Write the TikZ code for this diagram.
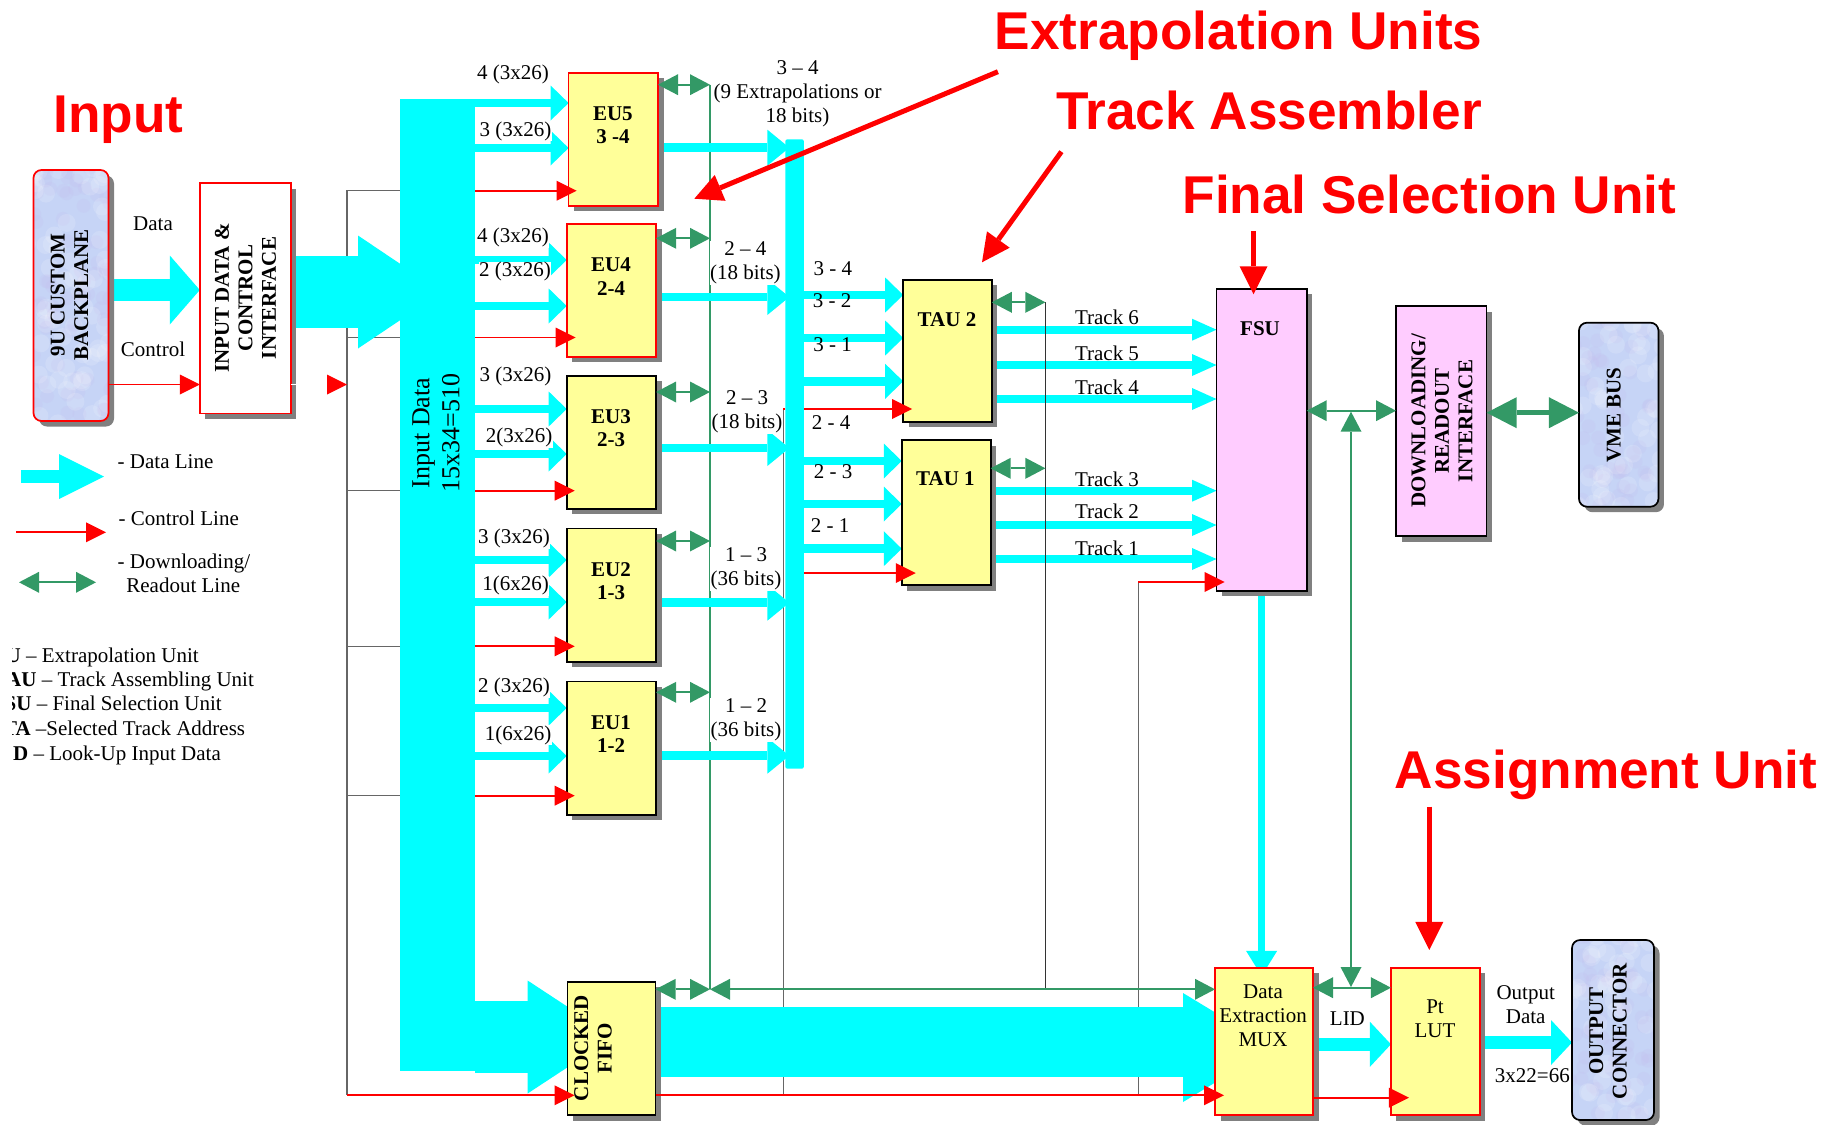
\documentclass[tikz,border=0pt]{standalone}
\usepackage{fontspec}
\setmainfont{Liberation Serif}
\newfontfamily\calloutfont{Liberation Sans}
\usepackage{xcolor}
\usetikzlibrary{
    positioning,
    arrows.meta,
    calc,
    backgrounds,
    shadows,
}
\definecolor{datacyan}{RGB}{0,255,255}
\definecolor{dlgreen}{RGB}{51,153,102}
\definecolor{unityellow}{RGB}{255,255,153}
\definecolor{unitpink}{RGB}{255,204,255}
\definecolor{shadowgray}{RGB}{128,128,128}
\definecolor{texblue}{RGB}{198,212,246}
\definecolor{texlilac}{RGB}{196,180,236}
\tikzset{
    % Block styles
    unit/.style={rectangle, draw=#1, line width=1.7pt, inner sep=0pt, outer sep=0pt,
                 drop shadow={shadow xshift=5.5pt, shadow yshift=-5.5pt, fill=shadowgray, opacity=1}},
    eu unit/.style={unit=#1, fill=unityellow, minimum width=89.4pt, minimum height=133.3pt},
    pink unit/.style={unit=black, fill=unitpink},
    conn unit/.style={unit=#1, fill=texblue, rounded corners=8pt,
                      path picture={
                          \foreach \i in {1,...,70}{
                              \fill[white, opacity=.14] ($(path picture bounding box.center)+(rand*45pt,rand*130pt)$) circle[radius=9pt];
                              \fill[texlilac, opacity=.13] ($(path picture bounding box.center)+(rand*45pt,rand*130pt)$) circle[radius=7pt];
                          }}},
    % Arrow styles
    cyan arrow/.style n args={3}{-{Triangle[length=#2, width=#3, line width=0pt]}, line width=#1, draw=datacyan},
    dataline/.style={cyan arrow={8.5pt}{18pt}{35pt}},
    collectline/.style={cyan arrow={8.5pt}{22pt}{36pt}},
    trackline/.style={cyan arrow={8pt}{24.5pt}{22pt}},
    fatline/.style={cyan arrow={13pt}{21pt}{45pt}},
    ctrlline/.style={-{Triangle[length=20pt, width=20pt, line width=0pt]}, line width=1.8pt, red},
    dlline/.style={{Triangle[length=20pt, width=21pt, line width=0pt]}-{Triangle[length=20pt, width=21pt, line width=0pt]},
                   line width=1.8pt, draw=dlgreen},
    callout/.style={-{Triangle[length=28pt, width=28pt, line width=0pt]}, line width=5pt, red},
    busline/.style={line width=1.1pt, black!60},
    % Text styles
    txt/.style={font=\fontsize{21}{24}\selectfont, align=center, inner sep=0.5pt},
    wtxt/.style={txt, fill=white},
    btxt/.style={txt, font=\fontsize{21}{23.5}\selectfont\bfseries},
    vtxt/.style={btxt, rotate=90},
    bigred/.style={font=\fontsize{53.2}{60}\selectfont\calloutfont\bfseries, text=red, anchor=base, inner sep=0pt},
}
\pgfmathsetseed{17}

\begin{document}
\begin{tikzpicture}[x=1pt, y=-1pt]
    \useasboundingbox (0,0) rectangle (1841,1124);

    % Left side
    \node[conn unit=red, minimum width=75pt, minimum height=251pt] (backplane) at (71,295.5) {};
    \node[vtxt] (backplanetext) at (69.5,295) {9U CUSTOM\\BACKPLANE};
    \node[unit=red, fill=white, minimum width=91pt, minimum height=230.6pt] (iface) at (245.3,298.3) {};
    \node[vtxt] (ifacetext) at (245.6,298) {INPUT DATA \&\\CONTROL\\INTERFACE};
    \node[txt] (datatext) at (153,224) {Data};
    \node[txt] (controltext) at (153,349) {Control};

    % Input bus
    \node[rectangle, fill=datacyan, minimum width=75pt, minimum height=972pt, inner sep=0pt, outer sep=0pt] (inbar) at (437.5,585) {};
    \node[txt, font=\fontsize{26}{30}\selectfont, rotate=90] (inbartext) at (436,433) {Input Data\\15x34=510};

    % Extrapolation units
    \node[eu unit=red] (eu5) at (613.3,139.3) {};
    \node[eu unit=red] (eu4) at (611.4,290.3) {};
    \node[eu unit=black] (eu3) at (611.4,442.3) {};
    \node[eu unit=black] (eu2) at (611.4,595) {};
    \node[eu unit=black] (eu1) at (611.4,748) {};
    \node[eu unit=black, minimum width=88pt] (fifo) at (611.6,1048.6) {};
    \node[btxt] (eu5text) at (612.9,125.4) {EU5\\3 -4};
    \node[btxt] (eu4text) at (611,276.5) {EU4\\2-4};
    \node[btxt] (eu3text) at (611,428) {EU3\\2-3};
    \node[btxt] (eu2text) at (611,581) {EU2\\1-3};
    \node[btxt] (eu1text) at (611,734) {EU1\\1-2};
    \node[vtxt] (fifotext) at (593,1048) {CLOCKED\\FIFO};

    % Track collector and TAUs
    \node[rectangle, fill=datacyan, rounded corners=2pt, minimum width=18.5pt, minimum height=629.4pt, inner sep=0pt, outer sep=0pt] (collector) at (794.6,454) {};
    \node[eu unit=black, minimum width=88.6pt, minimum height=141.7pt] (tau2) at (947.5,350.8) {};
    \node[eu unit=black, minimum width=88.9pt, minimum height=145pt] (tau1) at (946.2,512.5) {};
    \node[btxt] (tau2text) at (947,319.3) {TAU 2};
    \node[btxt] (tau1text) at (945.4,478.7) {TAU 1};

    % Right side
    \node[pink unit, minimum width=90.2pt, minimum height=301.7pt] (fsu) at (1261.6,439.8) {};
    \node[btxt] (fsutext) at (1260,328.3) {FSU};
    \node[pink unit, minimum width=90.6pt, minimum height=230pt] (dlif) at (1441.3,421.3) {};
    \node[vtxt] (dliftext) at (1442,421) {DOWNLOADING/\\READOUT\\INTERFACE};
    \node[conn unit=black, minimum width=79.5pt, minimum height=184pt] (vme) at (1618.7,414.7) {};
    \node[vtxt] (vmetext) at (1613.8,415) {VME BUS};
    \node[eu unit=red, minimum width=98pt, minimum height=147.3pt] (mux) at (1264,1041.6) {};
    \node[txt] (muxtext) at (1263,1016) {Data\\Extraction\\MUX};
    \node[eu unit=red, minimum width=88.7pt, minimum height=147.3pt] (ptlut) at (1435.3,1041.6) {};
    \node[txt] (ptluttext) at (1435,1019) {Pt\\LUT};
    \node[conn unit=black, minimum width=82pt, minimum height=180pt] (outconn) at (1613,1030) {};
    \node[vtxt] (outconntext) at (1608,1031) {OUTPUT\\CONNECTOR};

    % Free ends of the buses
    \coordinate (ctrlbus) at (347,190.7);
    \coordinate (dlbus) at (710,84.7);
    \coordinate (eubus) at (783.2,409);
    \coordinate (tauclk) at (1045.4,302.3);
    \coordinate (fsuclk) at (1138.4,582);

    \begin{pgfonlayer}{background}
        % Control bus
        \draw[busline] (inbar.west |- ctrlbus) -- (ctrlbus) -- (ctrlbus |- 0,1095.3);
        \draw[busline] (ctrlbus |- 0,337.5) -- (inbar.west |- 0,337.5);
        \draw[busline] (ctrlbus |- 0,490.7) -- (inbar.west |- 0,490.7);
        \draw[busline] (ctrlbus |- 0,646.3) -- (inbar.west |- 0,646.3);
        \draw[busline] (ctrlbus |- 0,795.7) -- (inbar.west |- 0,795.7);
        \draw[busline] (eubus) -- (eubus |- 0,1095.3);
        \draw[busline] (fsuclk) -- (fsuclk |- 0,1095.3);
        \draw[line width=1.7pt, draw=dlgreen] (dlbus) -- (dlbus |- 0,989.3);

        % Data in
        \draw[cyan arrow={22pt}{30pt}{69pt}] (backplane.east |- 0,290) -- (iface.west |- 0,290);
        \draw[cyan arrow={72pt}{84pt}{113pt}] (iface.east |- 0,292) -- ([xshift=42pt]inbar.west |- 0,292);
        \draw[cyan arrow={72pt}{86pt}{113pt}] (inbar.east |- 0,1037) -- ([xshift=46pt]fifo.west |- 0,1037);

        % Bus to EUs
        \draw[dataline] (inbar.east |- 0,103) -- (eu5.west |- 0,103);
        \draw[dataline] (inbar.east |- 0,148) -- (eu5.west |- 0,148);
        \draw[dataline] (inbar.east |- 0,260) -- (eu4.west |- 0,260);
        \draw[dataline] (inbar.east |- 0,306) -- (eu4.west |- 0,306);
        \draw[dataline] (inbar.east |- 0,409) -- (eu3.west |- 0,409);
        \draw[dataline] (inbar.east |- 0,454) -- (eu3.west |- 0,454);
        \draw[dataline] (inbar.east |- 0,560) -- (eu2.west |- 0,560);
        \draw[dataline] (inbar.east |- 0,602) -- (eu2.west |- 0,602);
        \draw[dataline] (inbar.east |- 0,708) -- (eu1.west |- 0,708);
        \draw[dataline] (inbar.east |- 0,756) -- (eu1.west |- 0,756);

        % EUs to collector
        \draw[collectline] (eu5.east |- 0,147.7) -- ([xshift=4pt]collector.west |- 0,147.7);
        \draw[collectline] (eu4.east |- 0,297) -- ([xshift=4pt]collector.west |- 0,297);
        \draw[collectline] (eu3.east |- 0,448) -- ([xshift=4pt]collector.west |- 0,448);
        \draw[collectline] (eu2.east |- 0,602.7) -- ([xshift=4pt]collector.west |- 0,602.7);
        \draw[collectline] (eu1.east |- 0,755.7) -- ([xshift=4pt]collector.west |- 0,755.7);

        % Collector to TAUs
        \draw[dataline] (collector.east |- 0,295) -- (tau2.west |- 0,295);
        \draw[dataline] (collector.east |- 0,338) -- (tau2.west |- 0,338);
        \draw[dataline] (collector.east |- 0,381.3) -- (tau2.west |- 0,381.3);
        \draw[dataline] (collector.east |- 0,461) -- (tau1.west |- 0,461);
        \draw[dataline] (collector.east |- 0,504) -- (tau1.west |- 0,504);
        \draw[dataline] (collector.east |- 0,548.7) -- (tau1.west |- 0,548.7);

        % Tracks
        \draw[trackline] (tau2.east |- 0,329.7) -- (fsu.west |- 0,329.7);
        \draw[trackline] (tau2.east |- 0,365) -- (fsu.west |- 0,365);
        \draw[trackline] (tau2.east |- 0,399) -- (fsu.west |- 0,399);
        \draw[trackline] (tau1.east |- 0,490.7) -- (fsu.west |- 0,490.7);
        \draw[trackline] (tau1.east |- 0,525) -- (fsu.west |- 0,525);
        \draw[trackline] (tau1.east |- 0,559) -- (fsu.west |- 0,559);
        \draw[line width=1pt, black!80] (tauclk) -- (tauclk |- 0,989.3);

        % Lower path
        \draw[line width=70pt, datacyan] (fifo.east |- 0,1042) -- ([xshift=-30pt]mux.west |- 0,1042);
        \draw[cyan arrow={58pt}{90pt}{109pt}] ([xshift=-33pt]mux.west |- 0,1047.5) -- ([xshift=58pt]mux.west |- 0,1047.5);
        \draw[cyan arrow={7pt}{25pt}{31pt}] (fsu.south) -- ([yshift=-8pt]mux.north -| fsu.south);
        \draw[fatline] (mux.east |- 0,1044.3) -- (ptlut.west |- 0,1044.3);
        \draw[fatline] (ptlut.east |- 0,1042.5) -- (outconn.west |- 0,1042.5);
    \end{pgfonlayer}

    % Control lines
    \draw[ctrlline] (backplane.east |- 0,384.5) -- (iface.west |- 0,384.5);
    \draw[ctrlline, draw=white, -{Triangle[length=20pt, width=20pt, line width=0pt, color=red]}] (iface.east |- 0,384.5) -- (ctrlbus |- 0,384.5);
    \draw[ctrlline] (inbar.east |- 0,190.7) -- ([xshift=8pt]eu5.west |- 0,190.7);
    \draw[ctrlline] (inbar.east |- 0,337.5) -- ([xshift=9pt]eu4.west |- 0,337.5);
    \draw[ctrlline] (inbar.east |- 0,490.7) -- ([xshift=8pt]eu3.west |- 0,490.7);
    \draw[ctrlline] (inbar.east |- 0,646.3) -- ([xshift=8pt]eu2.west |- 0,646.3);
    \draw[ctrlline] (inbar.east |- 0,795.7) -- ([xshift=8pt]eu1.west |- 0,795.7);
    \draw[ctrlline] (ctrlbus |- 0,1095.3) -- ([xshift=7pt]fifo.west |- 0,1095.3);
    \draw[ctrlline] (fifo.east |- 0,1095.3) -- ([xshift=9pt]mux.west |- 0,1095.3);
    \draw[ctrlline] (mux.east |- 0,1097.7) -- ([xshift=18pt]ptlut.west |- 0,1097.7);
    \draw[ctrlline] (collector.east |- eubus) -- ([xshift=9pt]tau2.west |- eubus);
    \draw[ctrlline] (collector.east |- 0,573) -- ([xshift=14pt]tau1.west |- 0,573);
    \draw[line width=1.8pt, red] (eubus) -- (collector.west |- eubus);
    \draw[ctrlline] (fsuclk) -- ([xshift=8pt]fsu.west |- fsuclk);

    % Downloading / readout lines
    \draw[dlline] (eu5.east |- dlbus) -- (dlbus);
    \draw[dlline] (eu4.east |- 0,238.3) -- (dlbus |- 0,238.3);
    \draw[dlline] (eu3.east |- 0,392) -- (dlbus |- 0,392);
    \draw[dlline] (eu2.east |- 0,541) -- (dlbus |- 0,541);
    \draw[dlline] (eu1.east |- 0,692.3) -- (dlbus |- 0,692.3);
    \draw[dlline] (fifo.east |- 0,989.3) -- (dlbus |- 0,989.3);
    \draw[dlline] (dlbus |- 0,989.3) -- (mux.west |- 0,989.3);
    \draw[dlline] (tau2.east |- tauclk) -- (tauclk);
    \draw[dlline] (tau1.east |- 0,468.3) -- (tauclk |- 0,468.3);
    \draw[dlline] (fsu.east |- 0,410.7) -- (dlif.west |- 0,410.7);
    \draw[dlline] (mux.east |- 0,987.7) -- (ptlut.west |- 0,987.7);
    \coordinate (dlriser) at (1351,411.7);
    \draw[dlline] (dlriser) -- (dlriser |- 0,987);
    \draw[dlline, line width=5.5pt, {Triangle[length=30pt, width=31pt, line width=0pt]}-{Triangle[length=30pt, width=31pt, line width=0pt]}] (dlif.east |- 0,412.7) -- (vme.west |- 0,412.7);

    % Bus labels
    \node[wtxt] (in5a) at (513,74.5) {4 (3x26)};
    \node[wtxt] (in5b) at (515.6,131) {3 (3x26)};
    \node[wtxt] (in4a) at (513,237.7) {4 (3x26)};
    \node[wtxt] (in4b) at (515,271.6) {2 (3x26)};
    \node[wtxt] (in3a) at (515.6,376) {3 (3x26)};
    \node[wtxt] (in3b) at (519,437.7) {2(3x26)};
    \node[wtxt] (in2a) at (514,538.7) {3 (3x26)};
    \node[wtxt] (in2b) at (515.6,585.7) {1(6x26)};
    \node[wtxt] (in1a) at (514,687.7) {2 (3x26)};
    \node[wtxt] (in1b) at (518,735) {1(6x26)};
    \node[txt] (out5) at (797.5,94) {3 -- 4\\(9 Extrapolations or\\18 bits)};
    \node[wtxt] (out4) at (745.4,263) {2 -- 4\\(18 bits)};
    \node[wtxt] (out3) at (747,412) {2 -- 3\\(18 bits)};
    \node[wtxt] (out2) at (746,569) {1 -- 3\\(36 bits)};
    \node[wtxt] (out1) at (746,720) {1 -- 2\\(36 bits)};
    \node[txt] (tau34) at (832.9,269) {3 - 4};
    \node[txt] (tau32) at (832,301) {3 - 2};
    \node[txt] (tau31) at (832.5,345) {3 - 1};
    \node[txt] (tau24) at (831,423) {2 - 4};
    \node[txt] (tau23) at (833,472) {2 - 3};
    \node[txt] (tau21) at (830,526) {2 - 1};
    \node[txt] (track6) at (1107,317.3) {Track 6};
    \node[txt] (track5) at (1107,353.3) {Track 5};
    \node[txt] (track4) at (1107,387) {Track 4};
    \node[txt] (track3) at (1107,479.3) {Track 3};
    \node[txt] (track2) at (1107,511) {Track 2};
    \node[txt] (track1) at (1107,548.3) {Track 1};
    \node[txt] (lidtext) at (1347.4,1018.7) {LID};
    \node[txt] (outtext) at (1525.7,1005) {Output\\Data};
    \node[txt] (widthtext) at (1532.4,1076) {3x22=66};

    % Legend
    \coordinate (leg1) at (21,476.5);
    \coordinate (leg2) at (16,532.3);
    \coordinate (leg3) at (19,582.3);
    \draw[cyan arrow={13pt}{45pt}{45pt}] (leg1) -- ++(83,0);
    \draw[ctrlline] (leg2) -- ++(90,0);
    \draw[dlline] (leg3) -- ++(77,0);
    \node[txt, anchor=west] (legdata) at (117,461.7) {- Data Line};
    \node[txt, anchor=west] (legctrl) at (118,518.7) {- Control Line};
    \node[txt, anchor=west] (legdl) at (117,563.7) {- Downloading/};
    \node[txt, anchor=west] (legdl2) at (125.7,585.7) {Readout Line};
    \begin{scope}
        \clip (12,640) rectangle (400,770);
        \node[txt, anchor=west] (abbr1) at (5,657.7) {\textbf{U} -- Extrapolation Unit};
        \node[txt, anchor=west] (abbr2) at (5.5,681.7) {\textbf{AU} -- Track Assembling Unit};
        \node[txt, anchor=west] (abbr3) at (4,703.3) {\textbf{SU} -- Final Selection Unit};
        \node[txt, anchor=west] (abbr4) at (2.4,728.3) {\textbf{TA} --Selected Track Address};
        \node[txt, anchor=west] (abbr5) at (12.5,755.7) {\textbf{D} -- Look-Up Input Data};
    \end{scope}

    % Red annotations
    \node[bigred] (inputcall) at (118.5,132) {Input};
    \node[bigred] (eucall) at (1238.7,50) {Extrapolation Units};
    \node[bigred] (taucall) at (1269,129) {Track Assembler};
    \node[bigred] (fsucall) at (1429.4,213) {Final Selection Unit};
    \node[bigred] (lutcall) at (1606,788) {Assignment Unit};
    \coordinate (eutail) at (997.9,71.7);
    \coordinate (eutip) at (694.3,198.7);
    \coordinate (tautail) at (1061.4,151.7);
    \coordinate (tautip) at (982,262.3);
    \draw[callout] (eutail) -- (eutip);
    \draw[callout] (tautail) -- (tautip);
    \draw[callout] ([xshift=-8pt]fsu.north |- 0,231) -- ([xshift=-8pt,yshift=-5.3pt]fsu.north);
    \draw[callout] ([xshift=-6pt]ptlut.north |- 0,806.6) -- ([xshift=-6pt,yshift=18pt]ptlut.north);
\end{tikzpicture}
\end{document}
